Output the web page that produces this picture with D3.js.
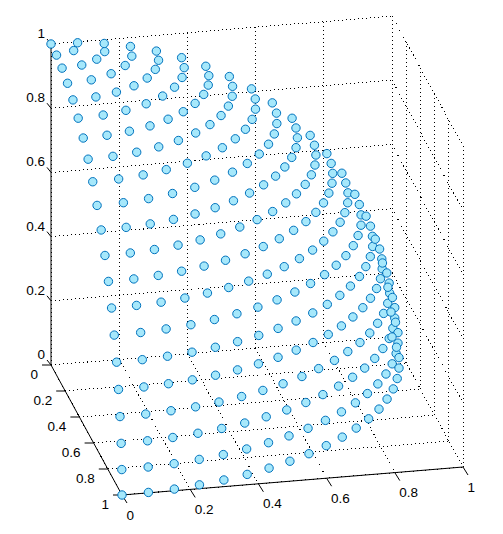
<!DOCTYPE html>
<html>
<head>
<meta charset="utf-8">
<script src="https://cdn.jsdelivr.net/npm/d3@7"></script>
<style>
html, body { margin: 0; padding: 0; background: #fff; }
svg { display: block; }
text { font-family: "Liberation Sans", Arial, sans-serif; font-size: 13.5px; fill: #000; }
</style>
</head>
<body>
<script>
const width = 503;
const height = 534;

const xTicks = [0, 0.2, 0.4, 0.6, 0.8, 1];
const yTicks = [0, 0.2, 0.4, 0.6, 0.8, 1];
const zTicks = [0, 0.2, 0.4, 0.6, 0.8, 1];

// one entry per ring of points, from the top of the sphere down
const zRings = [1, 0.997, 0.988, 0.972, 0.951, 0.924, 0.891, 0.853, 0.809, 0.760, 0.707,
    0.649, 0.588, 0.523, 0.454, 0.383, 0.309, 0.233, 0.156, 0.078, 0];

const xRings = [
    [0],
    [0, .055, .078],
    [0, .060, .111, .145, .156],
    [0, .072, .137, .189, .222, .233],
    [0, .069, .134, .193, .242, .278, .301, .309],
    [0, .075, .146, .213, .271, .318, .354, .375, .383],
    [0, .071, .140, .206, .267, .321, .367, .405, .432, .448, .454],
    [0, .074, .147, .217, .282, .342, .395, .440, .475, .501, .517, .523],
    [0, .077, .152, .225, .294, .358, .416, .466, .509, .543, .568, .583, .588],
    [0, .078, .155, .230, .302, .369, .431, .486, .534, .575, .607, .630, .645, .649],
    [0, .074, .147, .219, .288, .354, .416, .473, .525, .572, .612, .646, .673, .692, .703, .707],
    [0, .075, .148, .221, .291, .358, .422, .482, .538, .588, .632, .671, .703, .728, .746, .757, .760],
    [0, .075, .149, .221, .292, .361, .426, .488, .545, .598, .646, .688, .724, .754, .778, .795, .806, .809],
    [0, .074, .148, .221, .292, .360, .426, .489, .548, .603, .653, .698, .738, .773, .801, .824, .840, .849, .853],
    [0, .078, .155, .231, .305, .377, .446, .511, .573, .630, .683, .730, .772, .808, .837, .861, .877, .888, .891],
    [0, .076, .152, .227, .300, .371, .440, .505, .567, .626, .680, .729, .773, .813, .846, .874, .896, .911, .921, .924],
    [0, .075, .149, .222, .294, .364, .432, .497, .559, .618, .673, .723, .769, .811, .847, .879, .905, .925, .939, .948, .951],
    [0, .076, .152, .227, .300, .372, .441, .508, .572, .631, .688, .739, .787, .829, .866, .898, .925, .946, .960, .969, .972],
    [0, .078, .154, .231, .305, .378, .448, .516, .581, .641, .698, .751, .799, .842, .880, .913, .939, .960, .976, .985, .988],
    [0, .078, .156, .233, .308, .382, .453, .521, .586, .647, .705, .758, .806, .850, .888, .921, .948, .969, .985, .994, .997],
    [0, .078, .156, .233, .309, .383, .454, .523, .588, .649, .707, .760, .809, .853, .891, .924, .951, .972, .988, .997, 1]
];

const yRings = [
    [0],
    [.078, .055, 0],
    [.156, .145, .111, .060, 0],
    [.233, .222, .189, .137, .072, 0],
    [.309, .301, .278, .242, .193, .134, .069, 0],
    [.383, .375, .354, .318, .271, .213, .146, .075, 0],
    [.454, .448, .432, .405, .367, .321, .267, .206, .140, .071, 0],
    [.523, .517, .501, .475, .440, .395, .342, .282, .217, .147, .074, 0],
    [.588, .583, .568, .543, .509, .466, .416, .358, .294, .225, .152, .077, 0],
    [.649, .645, .630, .607, .575, .534, .486, .431, .369, .302, .230, .155, .078, 0],
    [.707, .703, .692, .673, .646, .612, .572, .525, .473, .416, .354, .288, .219, .147, .074, 0],
    [.760, .757, .746, .728, .703, .671, .632, .588, .538, .482, .422, .358, .291, .221, .148, .075, 0],
    [.809, .806, .795, .778, .754, .724, .688, .646, .598, .545, .488, .426, .361, .292, .221, .149, .075, 0],
    [.853, .849, .840, .824, .801, .773, .738, .698, .653, .603, .548, .489, .426, .360, .292, .221, .148, .074, 0],
    [.891, .888, .877, .861, .837, .808, .772, .730, .683, .630, .573, .511, .446, .377, .305, .231, .155, .078, 0],
    [.924, .921, .911, .896, .874, .846, .813, .773, .729, .680, .626, .567, .505, .440, .371, .300, .227, .152, .076, 0],
    [.951, .948, .939, .925, .905, .879, .847, .811, .769, .723, .673, .618, .559, .497, .432, .364, .294, .222, .149, .075, 0],
    [.972, .969, .960, .946, .925, .898, .866, .829, .787, .739, .688, .631, .572, .508, .441, .372, .300, .227, .152, .076, 0],
    [.988, .985, .976, .960, .939, .913, .880, .842, .799, .751, .698, .641, .581, .516, .448, .378, .305, .231, .154, .078, 0],
    [.997, .994, .985, .969, .948, .921, .888, .850, .806, .758, .705, .647, .586, .521, .453, .382, .308, .233, .156, .078, 0],
    [1, .997, .988, .972, .951, .924, .891, .853, .809, .760, .707, .649, .588, .523, .454, .383, .309, .233, .156, .078, 0]
];

const points = [];
zRings.forEach((z, i) => {
    xRings[i].forEach((x, j) => {
        points.push({ x: x, y: yRings[i][j], z: z });
    });
});

// oblique view: each data axis moves the screen point in both directions
const xToLeft = d3.scaleLinear().domain([0, 1]).range([0, 341]);
const xToTop = d3.scaleLinear().domain([0, 1]).range([0, -28]);
const yToLeft = d3.scaleLinear().domain([0, 1]).range([0, 71]);
const yToTop = d3.scaleLinear().domain([0, 1]).range([0, 130]);
const zToTop = d3.scaleLinear().domain([0, 1]).range([0, -321]);

const originLeft = 51;
const originTop = 365;

function px(x, y) {
    return originLeft + xToLeft(x) + yToLeft(y);
}

function py(x, y, z) {
    return originTop + xToTop(x) + yToTop(y) + zToTop(z);
}

const svg = d3.select("body")
    .append("svg")
    .attr("width", width)
    .attr("height", height);

function segment(parent, a, b) {
    return parent.append("line")
        .attr("x1", px(a[0], a[1]))
        .attr("y1", py(a[0], a[1], a[2]))
        .attr("x2", px(b[0], b[1]))
        .attr("y2", py(b[0], b[1], b[2]));
}

const grid = svg.append("g")
    .attr("stroke", "#000")
    .attr("stroke-width", 1)
    .attr("stroke-dasharray", "1 3")
    .attr("shape-rendering", "crispEdges");

// floor
xTicks.forEach(t => segment(grid, [t, 0, 0], [t, 1, 0]));
yTicks.forEach(t => segment(grid, [0, t, 0], [1, t, 0]));
// back wall
xTicks.forEach(t => segment(grid, [t, 0, 0], [t, 0, 1]));
zTicks.forEach(t => segment(grid, [0, 0, t], [1, 0, t]));
// right wall
yTicks.forEach(t => segment(grid, [1, t, 0], [1, t, 1]));
zTicks.forEach(t => segment(grid, [1, 0, t], [1, 1, t]));

const axes = svg.append("g")
    .attr("stroke", "#000")
    .attr("stroke-width", 1);

segment(axes, [0, 1, 0], [1, 1, 0]);
segment(axes, [0, 0, 0], [0, 1, 0]);
segment(axes, [0, 0, 0], [0, 0, 1]);

xTicks.forEach(t => {
    const left = px(t, 1);
    const top = py(t, 1, 0);
    axes.append("line")
        .attr("x1", left).attr("y1", top)
        .attr("x2", left + 5).attr("y2", top + 8);
    svg.append("text")
        .attr("x", left + 4.5)
        .attr("y", top + 24.5)
        .text(t);
});

yTicks.forEach(t => {
    const left = px(0, t);
    const top = py(0, t, 0);
    axes.append("line")
        .attr("x1", left).attr("y1", top)
        .attr("x2", left - 9).attr("y2", top);
    svg.append("text")
        .attr("x", left - 13)
        .attr("y", top + 14)
        .attr("text-anchor", "end")
        .text(t);
});

zTicks.forEach(t => {
    const left = px(0, 0);
    const top = py(0, 0, t);
    axes.append("line")
        .attr("x1", left).attr("y1", top)
        .attr("x2", left - 4).attr("y2", top - 5);
    svg.append("text")
        .attr("x", 45)
        .attr("y", top - 6)
        .attr("text-anchor", "end")
        .text(t);
});

svg.append("g")
    .selectAll("circle")
    .data(points)
    .enter()
    .append("circle")
    .attr("cx", d => px(d.x, d.y))
    .attr("cy", d => py(d.x, d.y, d.z))
    .attr("r", 4.2)
    .attr("fill", "#a6e8fb")
    .attr("stroke", "#0072bd")
    .attr("stroke-width", 1);
</script>
</body>
</html>
